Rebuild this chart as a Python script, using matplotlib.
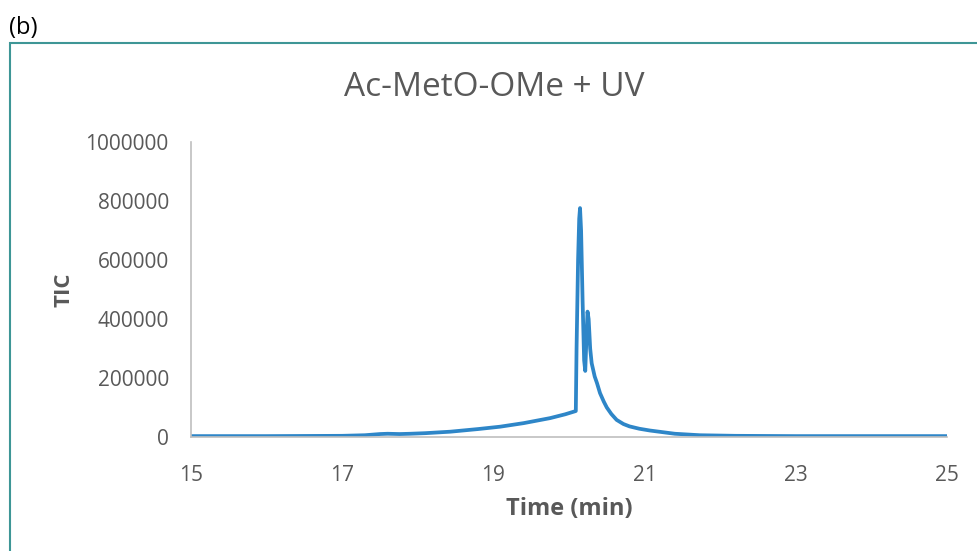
import matplotlib.pyplot as plt
from matplotlib.patches import Rectangle
from matplotlib.ticker import FuncFormatter

# Chromatogram, Ac-MetO-OMe after UV
time_min = [15.0, 16.0, 17.0, 17.3, 17.5, 17.6, 17.76, 17.9, 18.1, 18.43, 18.8,
            19.09, 19.4, 19.75, 19.95, 20.09, 20.10, 20.12, 20.135, 20.146, 20.16,
            20.18, 20.20, 20.215, 20.23, 20.245, 20.26, 20.28, 20.30, 20.34, 20.37,
            20.41, 20.46, 20.5, 20.56, 20.63, 20.72, 20.8, 20.93, 21.07, 21.4,
            21.73, 22.2, 23.0, 24.0, 25.0]
tic = [3000, 3000, 4000, 6000, 10000, 11000, 10000, 11000, 13000, 18000, 27000,
       35000, 47000, 64000, 77000, 88000, 300000, 600000, 740000, 776000, 700000,
       460000, 260000, 224000, 330000, 425000, 400000, 300000, 250000, 205000, 183000,
       149000, 120000, 100000, 78000, 58000, 44000, 36000, 28000, 22000, 11000,
       6000, 4000, 3000, 3000, 3000]

plt.rcParams['font.family'] = ['Open Sans', 'DejaVu Sans']
fig = plt.figure(figsize=(9.78, 5.51), dpi=100)

# outer panel frame and label
fig.patches.append(Rectangle((10 / 978, -0.05), 1.0, 1 - 43 / 551 + 0.05,
                             transform=fig.transFigure, fill=False,
                             edgecolor='#3E9696', linewidth=1.5))
fig.text(9 / 978, 1 - 28 / 551, '(b)', fontsize=17, va='center', ha='left', color='black')

ax = fig.add_axes([191 / 978, 1 - 437 / 551, (947 - 191) / 978, (437 - 142) / 551])
ax.plot(time_min, tic, color='#2E86C8', linewidth=2.7, solid_joinstyle='round',
        solid_capstyle='round')

ax.set_xlim(15, 25)
ax.set_ylim(0, 1000000)
ax.set_xticks([15, 17, 19, 21, 23, 25])
ax.set_yticks(range(0, 1000001, 200000))
ax.yaxis.set_major_formatter(FuncFormatter(lambda v, p: f'{int(v)}'))
ax.tick_params(length=0, labelsize=15, labelcolor='#595959')
ax.tick_params(axis='y', pad=16)
ax.tick_params(axis='x', pad=20)

for side in ['top', 'right']:
    ax.spines[side].set_visible(False)
for side in ['left', 'bottom']:
    ax.spines[side].set_color('#BFBFBF')
    ax.spines[side].set_linewidth(1.2)

# chart title centred across the whole panel
fig.text(494 / 978, 1 - 88 / 551, 'Ac-MetO-OMe + UV', fontsize=24, color='#595959',
         ha='center', va='center')
ax.set_xlabel('Time (min)', fontsize=17, fontweight='bold', color='#595959', labelpad=8)
ax.set_ylabel('TIC', fontsize=16, fontweight='bold', color='#595959', labelpad=8)

fig.savefig('out.png', dpi=100)
